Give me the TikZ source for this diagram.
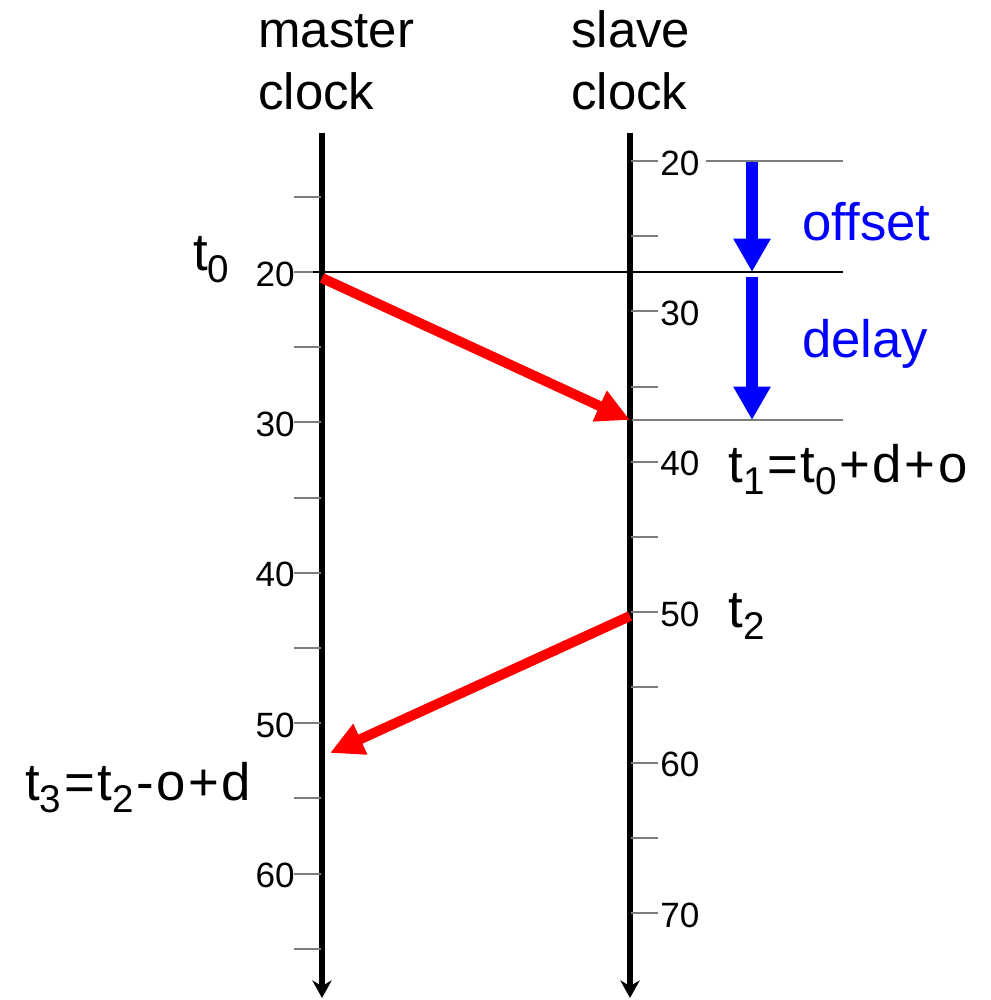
\documentclass[tikz,border=0pt]{standalone}
\usepackage{fontspec}
\setmainfont{Liberation Sans}
\usetikzlibrary{arrows.meta,positioning}
\definecolor{ClkRed}{RGB}{255,0,0}
\definecolor{ClkBlue}{RGB}{0,0,255}
\definecolor{ClkGray}{RGB}{125,125,125}
\newcommand{\tsub}[1]{\raisebox{-7pt}{\fontsize{22}{22}\selectfont #1}}
\newcommand{\tsym}[1]{\kern1.5pt#1\kern1.5pt}
\tikzset{
  clk/axis/.style={-{Stealth[length=10pt,width=11pt]}, line width=2.9pt, draw=black},
  clk/tick/.style={draw=ClkGray, line width=1.1pt},
  clk/rule/.style={draw=ClkGray, line width=0.8pt},
  clk/blackrule/.style={draw=black, line width=0.7pt},
  clk/msg/.style={-{Triangle[length=19pt,width=18pt]}, line width=5.7pt, draw=ClkRed},
  clk/span/.style={-{Triangle[length=19pt,width=20pt]}, line width=6.8pt, draw=ClkBlue},
  clk/head/.style={anchor=base west, inner sep=0pt, font=\fontsize{29}{35}\selectfont},
  clk/num/.style={inner sep=0pt, font=\fontsize{20}{24}\selectfont},
  clk/eq/.style={anchor=base west, inner sep=0pt, font=\fontsize{30}{36}\selectfont},
  clk/bluelabel/.style={anchor=base west, inner sep=0pt, text=ClkBlue, font=\fontsize{30}{36}\selectfont}
}

\begin{document}
\begin{tikzpicture}[x=0.02cm,y=-0.02cm]
  \useasboundingbox (0,0) rectangle (990,1000);
  % headers
  \node[clk/head] (mhead1) at (258,48) {master};
  \node[clk/head] (mhead2) at (258,110) {clock};
  \node[clk/head] (shead1) at (571,48) {slave};
  \node[clk/head] (shead2) at (571,110) {clock};
  % clock lines
  \coordinate (mtop) at (322,133);
  \coordinate (mbot) at (322,998);
  \coordinate (stop) at (630,133);
  \coordinate (sbot) at (630,998);
  \draw[clk/axis] (mtop) -- (mbot);
  \draw[clk/axis] (stop) -- (sbot);
  % master scale
  \foreach \v in {15,20,...,65}{
    \draw[clk/tick] (294,{272+(\v-20)*15.04}) -- (321,{272+(\v-20)*15.04});
  }
  \foreach \v in {20,30,...,60}{
    \node[clk/num,anchor=east] (m\v) at (295,{274+(\v-20)*15.04}) {\v};
  }
  % slave scale
  \foreach \v in {20,25,...,70}{
    \draw[clk/tick] (631,{161+(\v-20)*15.04}) -- (658,{161+(\v-20)*15.04});
  }
  \foreach \v in {20,30,...,70}{
    \node[clk/num,anchor=west] (s\v) at (660,{163+(\v-20)*15.04}) {\v};
  }
  % reference lines
  \coordinate (r0a) at (706,161);
  \coordinate (r0b) at (843,161);
  \coordinate (r1a) at (313,272);
  \coordinate (r1b) at (843,272);
  \coordinate (r2a) at (632,420);
  \coordinate (r2b) at (843,420);
  \draw[clk/rule] (r0a) -- (r0b);
  \draw[clk/blackrule] (r1a) -- (r1b);
  \draw[clk/rule] (r2a) -- (r2b);
  % offset and delay
  \coordinate (off0) at (752,162);
  \coordinate (off1) at (752,272);
  \coordinate (del0) at (752,277);
  \coordinate (del1) at (752,420);
  \draw[clk/span] (off0) -- (off1);
  \draw[clk/span] (del0) -- (del1);
  \node[clk/bluelabel] (offset) at (802,240) {offset};
  \node[clk/bluelabel] (delay) at (802,357) {delay};
  % messages
  \coordinate (send) at (322,278);
  \coordinate (recv) at (630,420);
  \coordinate (reply) at (630,616);
  \coordinate (back) at (330,753);
  \draw[clk/msg] (send) -- (recv);
  \draw[clk/msg] (reply) -- (back);
  % time stamps
  \node[clk/eq] (t0) at (193,270) {t\tsub{0}};
  \node[clk/eq] (t1) at (728,482) {t\tsub{1}\tsym{=}t\tsub{0}\tsym{+}d\tsym{+}o};
  \node[clk/eq] (t2) at (728,627) {t\tsub{2}};
  \node[clk/eq] (t3) at (25,800) {t\tsub{3}\tsym{=}t\tsub{2}\tsym{-}o\tsym{+}d};
\end{tikzpicture}
\end{document}
